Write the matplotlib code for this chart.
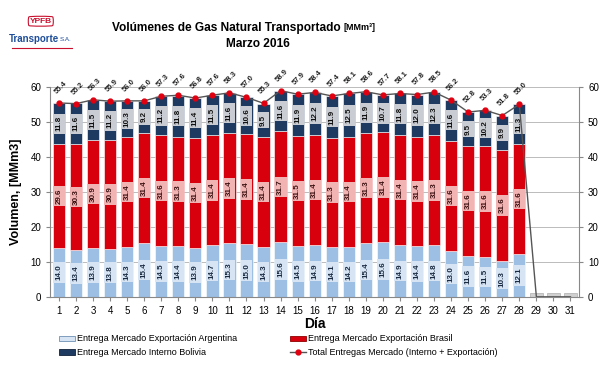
import numpy as np
import matplotlib.pyplot as plt
from matplotlib.patches import Patch
from matplotlib.lines import Line2D

plt.rcParams['font.family'] = ['Liberation Sans Narrow', 'Liberation Sans', 'DejaVu Sans']

# Datos (MMm3 por día, marzo 2016)
dias = list(range(1, 32))
argentina = [14.0, 13.4, 13.9, 13.8, 14.3, 15.4, 14.5, 14.4, 13.9, 14.7, 15.3, 15.0, 14.3, 15.6,
             14.5, 14.9, 14.1, 14.2, 15.4, 15.6, 14.9, 14.4, 14.8, 13.0, 11.6, 11.5, 10.3, 12.1]
brasil = [29.6, 30.3, 30.9, 30.9, 31.4, 31.4, 31.6, 31.3, 31.4, 31.4, 31.4, 31.4, 31.4, 31.7,
          31.5, 31.4, 31.3, 31.4, 31.3, 31.4, 31.4, 31.4, 31.3, 31.6, 31.6, 31.6, 31.6, 31.6]
bolivia = [11.8, 11.6, 11.5, 11.2, 10.3, 9.2, 11.2, 11.8, 11.4, 11.5, 11.6, 10.6, 9.5, 11.6,
           11.9, 12.2, 11.9, 12.5, 11.9, 10.7, 11.8, 12.0, 12.3, 11.6, 9.5, 10.2, 9.9, 11.3]
total = [55.4, 55.2, 56.3, 55.9, 56.0, 56.0, 57.3, 57.6, 56.8, 57.6, 58.3, 57.0, 55.3, 58.9,
         57.9, 58.4, 57.4, 58.1, 58.6, 57.7, 58.1, 57.8, 58.5, 56.2, 52.8, 53.3, 51.8, 55.0,
         0.0, 0.0, 0.0]

c_arg, c_arg_box = '#9dbfe3', '#d6e4f4'
c_bra, c_bra_box = '#d8000c', '#f2b3b3'
c_bol, c_bol_box = '#1e3a60', '#c9ccd2'

fig = plt.figure(figsize=(6, 3.86), dpi=100)
ax = fig.add_axes([0.084, 0.231, 0.881, 0.544])

n = len(argentina)
x = np.array(dias[:n])
arg = np.array(argentina)
bra = np.array(brasil)
bol = np.array(bolivia)
w = 0.72

ax.bar(x, arg, w, color=c_arg, edgecolor='white', linewidth=0.4, zorder=2)
ax.bar(x, bra, w, bottom=arg, color=c_bra, edgecolor='white', linewidth=0.4, zorder=2)
ax.bar(x, bol, w, bottom=arg + bra, color=c_bol, edgecolor='white', linewidth=0.4, zorder=2)

lab = dict(rotation=90, ha='center', va='center', fontsize=5.8, fontweight='bold', zorder=4)
for xi, a, b, c in zip(x, arg, bra, bol):
    ax.text(xi, a / 2, f'{a:.1f}', color='#1a2a40',
            bbox=dict(boxstyle='square,pad=0.3', fc=c_arg_box, ec='none'), **lab)
    ax.text(xi, a + b / 2, f'{b:.1f}', color='#3a1010',
            bbox=dict(boxstyle='square,pad=0.3', fc=c_bra_box, ec='none'), **lab)
    ax.text(xi, a + b + c / 2, f'{c:.1f}', color='#111111',
            bbox=dict(boxstyle='square,pad=0.3', fc=c_bol_box, ec='none'), **lab)

# dias sin datos
xe = np.array(dias[n:])
ax.bar(xe, [1.2] * len(xe), w, color='#d0d0d0', edgecolor='#a0a0a0', linewidth=0.4, zorder=2)

ax.plot(dias, total, color='#555555', lw=1.0, zorder=5)
ax.plot(x, total[:n], 'o', color='#e00010', ms=3.5, zorder=6)
for xi, t in zip(dias[:n], total[:n]):
    ax.text(xi + 0.1, t + 2.2, f'{t:.1f}', rotation=45, ha='center', va='bottom',
            fontsize=5.5, fontweight='bold', color='#222222', clip_on=False, zorder=6)

ax.set_xlim(0.5, 31.5)
ax.set_ylim(0, 60)
ax.set_yticks(range(0, 61, 10))
ax.set_xticks(dias)
ax.tick_params(axis='both', labelsize=7, length=3, color='#888888')
ax.tick_params(axis='y', labelright=True, right=True)
ax.yaxis.grid(True, color='#bbbbbb', lw=0.7, zorder=0)
ax.set_axisbelow(True)
ax.spines['top'].set_visible(False)
for s in ['left', 'right', 'bottom']:
    ax.spines[s].set_color('#888888')

ax.set_xlabel('Día', fontsize=10, fontweight='bold', labelpad=1)
ax.set_ylabel('Volumen, [MMm3]', fontsize=9, fontweight='bold', labelpad=6)

# titulo
fig.text(0.568, 0.927, 'Volúmenes de Gas Natural Transportado', ha='right', va='center',
         fontsize=8.6, fontweight='bold')
fig.text(0.572, 0.929, '[MMm³]', ha='left', va='center', fontsize=6.5, fontweight='bold')
fig.text(0.43, 0.887, 'Marzo 2016', ha='center', va='center', fontsize=8.6, fontweight='bold')

# logo
fig.text(0.068, 0.945, 'YPFB', ha='center', va='center', fontsize=6, fontweight='bold',
         color='#c8102e', bbox=dict(boxstyle='round4,pad=0.2', fc='white', ec='#c8102e', lw=0.8))
fig.text(0.098, 0.9, 'Transporte', ha='right', va='center', fontsize=7, fontweight='bold',
         color='#1f4e9a')
fig.text(0.1, 0.898, 'S.A.', ha='left', va='center', fontsize=4.5, color='#1f4e9a')
fig.add_artist(Line2D([0.02, 0.12], [0.875, 0.875], color='#c8102e', lw=0.8))

handles = [Patch(fc=c_arg_box, ec='#6f8fb5', lw=0.6),
           Patch(fc=c_bol, ec='#10203a', lw=0.6),
           Patch(fc=c_bra, ec='#900000', lw=0.6),
           Line2D([], [], color='#555555', marker='o', mfc='#e00010', mec='#e00010', ms=3.5, lw=1)]
labels = ['Entrega Mercado Exportación Argentina', 'Entrega Mercado Interno Bolivia',
          'Entrega Mercado Exportación Brasil', 'Total Entregas Mercado (Interno + Exportación)']
leg = fig.legend(handles, labels, ncol=2, loc='upper left', bbox_to_anchor=(0.085, 0.155),
                 frameon=False, fontsize=6.5, handlelength=1.8, handleheight=0.5,
                 handletextpad=0.2, columnspacing=5.8, labelspacing=0.55)

fig.savefig('out.png', dpi=100)
